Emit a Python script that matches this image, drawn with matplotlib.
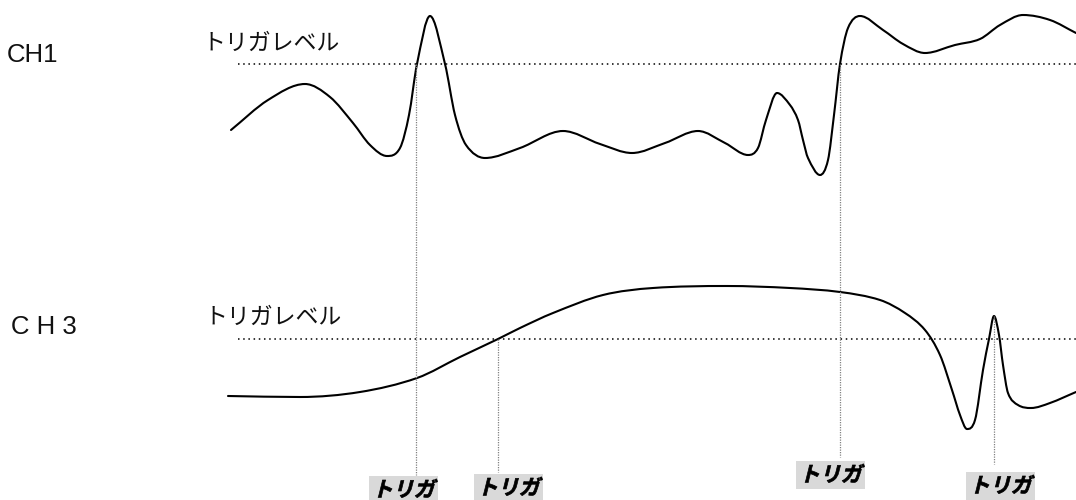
import numpy as np
import matplotlib
matplotlib.use("Agg")
import matplotlib.pyplot as plt
from matplotlib.path import Path
from matplotlib.patches import PathPatch
from matplotlib.patheffects import AbstractPathEffect
from matplotlib.transforms import Affine2D

# ---- data (diagram coordinates, y grows downward) ----
ch1_x = [231, 268, 305, 330, 353, 370, 387, 400, 409, 417, 430, 445, 455, 466, 485,
         520, 563, 600, 632, 665, 698, 725, 748, 758, 766, 777, 790, 798, 803, 808,
         820, 828, 834, 840, 848, 860, 883, 903, 925, 955, 980, 1000, 1023, 1050, 1076]
ch1_y = [130, 100, 84, 97, 123, 145, 156, 148, 115, 64, 16, 64, 115, 145, 158,
         148, 131, 144, 153, 143, 131, 143, 155, 148, 120, 93, 105, 120, 140, 158,
         175, 160, 115, 64, 28, 16, 30, 44, 53, 45, 39, 25, 15, 20, 33]

ch3_x = [228, 300, 360, 417, 460, 498, 520, 553, 603, 653, 727, 790, 840, 880, 905,
         925, 940, 952, 960, 967, 975, 983, 989, 994, 999, 1003, 1008, 1018, 1031,
         1050, 1076]
ch3_y = [396, 397, 392, 378, 357, 339, 328, 313, 295, 288, 286, 288, 292, 300, 313,
         330, 355, 390, 415, 429, 420, 370, 339, 316, 335, 365, 393, 405, 408,
         403, 392]

trig_level_ch1 = 64
trig_level_ch3 = 339
level_x0 = 238

trig_x = [416, 498, 840, 994]
trig_y0 = [64, 339, 64, 316]
trig_y1 = [475, 472, 457, 464]
trig_label_x = [372, 477, 799, 969]
trig_label_y = [490, 488, 475, 486]

ch_labels = ["CH1", "C H 3"]
ch_label_pos = [(7, 55), (11, 327)]
level_text = "トリガレベル"
level_text_pos = [(202, 43), (204, 317)]
trig_text = "トリガ"


def smooth_bezier_path(x, y):
    x = np.asarray(x, float)
    y = np.asarray(y, float)
    h = np.diff(x)
    d = np.diff(y) / h
    n = len(x)
    m = np.zeros(n)
    for k in range(1, n - 1):
        if d[k - 1] * d[k] <= 0:
            m[k] = 0.0
        else:
            c = (y[k + 1] - y[k - 1]) / (x[k + 1] - x[k - 1])
            lim = 3 * min(abs(d[k - 1]), abs(d[k]))
            m[k] = np.sign(c) * min(abs(c), lim)
    m[0] = d[0]
    m[-1] = d[-1]
    verts = [(x[0], y[0])]
    codes = [Path.MOVETO]
    for k in range(n - 1):
        verts += [(x[k] + h[k] / 3, y[k] + m[k] * h[k] / 3),
                  (x[k + 1] - h[k] / 3, y[k + 1] - m[k + 1] * h[k] / 3),
                  (x[k + 1], y[k + 1])]
        codes += [Path.CURVE4] * 3
    return Path(verts, codes)


class Oblique(AbstractPathEffect):
    def __init__(self, deg=14, stroke=0.6):
        super().__init__()
        self.deg = deg
        self.stroke = stroke

    def draw_path(self, renderer, gc, tpath, affine, rgbFace=None):
        tr = Affine2D().skew_deg(self.deg, 0) + affine
        gc0 = renderer.new_gc()
        gc0.copy_properties(gc)
        gc0.set_linewidth(self.stroke)
        gc0.set_foreground(rgbFace if rgbFace is not None else "black")
        renderer.draw_path(gc0, tpath, tr, rgbFace)
        gc0.restore()


fig = plt.figure(figsize=(10.76, 5.0), dpi=100)
ax = fig.add_axes([0, 0, 1, 1])
ax.set_xlim(0, 1076)
ax.set_ylim(500, 0)
ax.axis("off")

# waveforms
for xs, ys in [(ch1_x, ch1_y), (ch3_x, ch3_y)]:
    ax.add_patch(PathPatch(smooth_bezier_path(xs, ys), fill=False, lw=1.5,
                           edgecolor="black", capstyle="round", joinstyle="round"))

# trigger levels
for lvl in (trig_level_ch1, trig_level_ch3):
    ax.plot([level_x0, 1076], [lvl, lvl], color="black", lw=1.1,
            linestyle=(0, (1, 2.4)))

# trigger verticals
for x, y0, y1 in zip(trig_x, trig_y0, trig_y1):
    ax.plot([x, x], [y0, y1], color="#808080", lw=0.9, linestyle=(0, (1, 1)))

# channel labels
for lab, (px, py) in zip(ch_labels, ch_label_pos):
    ax.text(px, py, lab, family=["Liberation Sans", "DejaVu Sans"], fontsize=18.5,
            ha="left", va="center", color="#111111")

for (px, py) in level_text_pos:
    ax.text(px, py, level_text, family=["Noto Sans CJK JP", "DejaVu Sans"],
            fontsize=16.5, ha="left", va="center", color="#111111")

for px, py in zip(trig_label_x, trig_label_y):
    ax.text(px, py, trig_text, family=["Noto Sans CJK JP", "DejaVu Sans"],
            fontsize=15, fontweight="bold", ha="left", va="center",
            color="black",
            bbox=dict(boxstyle="square,pad=0.15", facecolor="#d9d9d9",
                      edgecolor="none"),
            path_effects=[Oblique(14, 0.5)])

fig.savefig("out.png", dpi=100)
